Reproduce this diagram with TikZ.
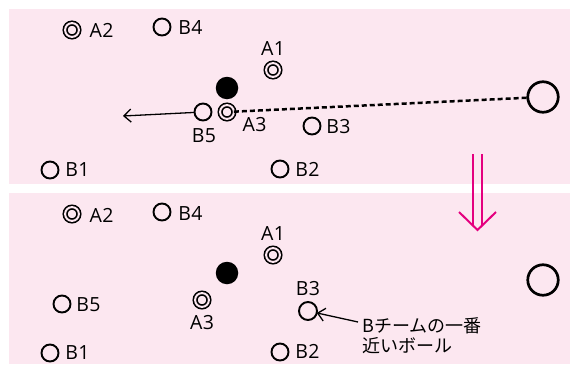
\documentclass[tikz,border=0pt]{standalone}
\usepackage{fontspec}
\setmainfont{Open Sans}
\newfontfamily\jpfont{Noto Sans CJK JP}
\usetikzlibrary{arrows.meta}
\definecolor{bgpink}{RGB}{252,231,240}
\definecolor{mag}{RGB}{228,0,127}
\begin{document}
\begin{tikzpicture}[x=1pt,y=-1pt,
  bpl/.style={circle,draw,line width=1.9pt,minimum size=17pt,inner sep=0pt,outer sep=0pt},
  apl/.style={circle,draw,line width=1.6pt,double=bgpink,double distance=2pt,minimum size=13.8pt,inner sep=0pt,outer sep=0pt},
  dot/.style={circle,fill=black,minimum size=22.5pt,inner sep=0pt},
  bigball/.style={circle,draw,line width=2.7pt,minimum size=30.5pt,inner sep=0pt,outer sep=0pt},
  lab/.style={inner sep=0pt,font=\fontsize{19.5}{19.5}\selectfont\addfontfeatures{LetterSpace=2}},
  arr/.style={line width=1.3pt,-{Straight Barb[length=7pt,width=13pt,line width=1.3pt]}}
]
\useasboundingbox (0,0) rectangle (570,364);
\fill[bgpink] (9,9) rectangle (570,184);
\fill[bgpink] (9,193) rectangle (570,364);

% ---------- top panel ----------
\node[apl] (tA2) at (72,30) {};
\node[lab] (tlA2) at (101.5,30) {A2};
\node[bpl] (tB4) at (162,27) {};
\node[lab] (tlB4) at (190.5,28) {B4};
\node[apl] (tA1) at (273,70) {};
\node[lab] (tlA1) at (273,49) {A1};
\node[dot] (tDot) at (227,88) {};
\node[bpl] (tB5) at (203,112) {};
\node[lab] (tlB5) at (204,136) {B5};
\node[apl] (tA3) at (227,112) {};
\node[lab] (tlA3) at (254.5,125) {A3};
\node[bpl] (tB3) at (312,126) {};
\node[lab] (tlB3) at (338.5,127) {B3};
\node[bpl] (tB1) at (50,170) {};
\node[lab] (tlB1) at (77.5,170) {B1};
\node[bpl] (tB2) at (280,169) {};
\node[lab] (tlB2) at (307.5,169) {B2};
\node[bigball] (tBall) at (543,97) {};
\coordinate (tEnd) at (123,116);
\draw[arr] (tB5) -- (tEnd);
\draw[line width=2.5pt,dash pattern=on 5pt off 3pt] (tA3) -- (tBall);

% ---------- transition arrow ----------
\coordinate (mTop) at (477.5,154);
\coordinate (mTip) at (477.5,230);
\draw[mag,line width=2pt] ([xshift=-4.5pt]mTop) -- ([xshift=-4.5pt,yshift=5pt]mTip);
\draw[mag,line width=2pt] ([xshift=4.5pt]mTop) -- ([xshift=4.5pt,yshift=5pt]mTip);
\draw[mag,line width=2pt] (459,212) -- (mTip) -- (496,212);

% ---------- bottom panel ----------
\node[apl] (bA2) at (72,214) {};
\node[lab] (blA2) at (101.5,215) {A2};
\node[bpl] (bB4) at (162,212) {};
\node[lab] (blB4) at (190.5,213) {B4};
\node[apl] (bA1) at (273,255) {};
\node[lab] (blA1) at (273,234) {A1};
\node[dot] (bDot) at (227,273) {};
\node[bpl] (bB5) at (62,304) {};
\node[lab] (blB5) at (88.5,305) {B5};
\node[apl] (bA3) at (202,300) {};
\node[lab] (blA3) at (202,323) {A3};
\node[bpl,minimum size=18pt] (bB3) at (308,311) {};
\node[lab] (blB3) at (308,289) {B3};
\node[bpl] (bB1) at (50,353) {};
\node[lab] (blB1) at (77.5,353) {B1};
\node[bpl] (bB2) at (280,352) {};
\node[lab] (blB2) at (307.5,351) {B2};
\node[bigball] (bBall) at (543,280) {};
\node[inner sep=0pt,anchor=north west,align=left,font=\jpfont\fontsize{18}{20}\selectfont] (note) at (362,317) {Bチームの一番\\近いボール};
\coordinate (noteTail) at (358,322);
\draw[arr] (noteTail) -- (bB3);
\end{tikzpicture}
\end{document}
